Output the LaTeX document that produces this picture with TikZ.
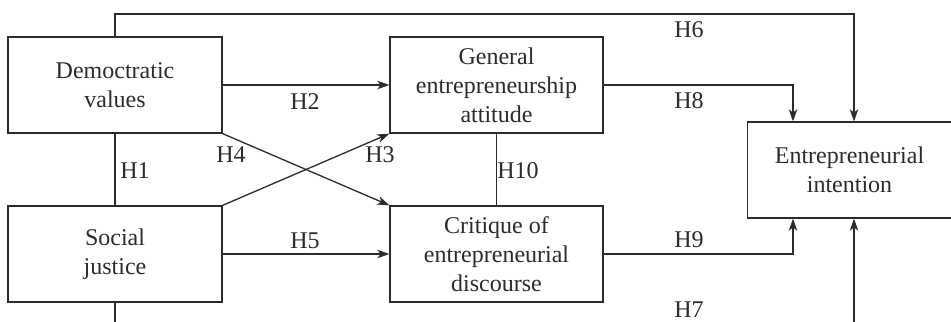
\documentclass[tikz,border=0pt]{standalone}
\usepackage{fontspec}
\setmainfont{Liberation Serif}
\usetikzlibrary{arrows.meta}
\definecolor{ink}{HTML}{2B2B2B}
\tikzset{
  box/.style={draw=ink, line width=0.65pt, inner sep=0pt, minimum height=48pt,
              align=center, text=ink, font=\fontsize{12}{14.5}\selectfont},
  hlab/.style={text=ink, inner sep=0pt, font=\fontsize{12}{14.5}\selectfont},
  conn/.style={draw=ink, line width=0.65pt},
  arr/.style={conn, -{Stealth[length=6pt, width=4.2pt, inset=1.6pt]}}
}
\begin{document}
\begin{tikzpicture}[x=0.5pt, y=-0.5pt]
\useasboundingbox (0,0) rectangle (951,321);
\clip (0,0) rectangle (951,321);
\node[box, minimum width=107pt] (dv)  at (115,85)    {Democtratic\\values};
\node[box, minimum width=107pt] (sj)  at (115,254)   {Social\\justice};
\node[box, minimum width=106.5pt] (gea) at (496.5,85)  {General\\entrepreneurship\\attitude};
\node[box, minimum width=106.5pt] (ced) at (496.5,254) {Critique of\\entrepreneurial\\discourse};
\node[box, minimum width=102pt] (ei)  at (849.5,170) {Entrepreneurial\\intention};
\coordinate (c6) at (854,14);
\coordinate (c8) at (793,0);
\coordinate (b7) at (854,330);
\coordinate (b1) at (115,330);
% connectors
\draw[conn] (dv.south) -- (sj.north);
\draw[arr] (dv.east) -- (gea.west);
\draw[arr] (dv.south east) -- (ced.north west);
\draw[arr] (sj.north east) -- (gea.south west);
\draw[arr] (sj.east) -- (ced.west);
\draw[conn] (gea.south) -- (ced.north);
\draw[arr] (dv.north) |- (c6) -- (c6 |- ei.north);
\draw[arr] (gea.east) -| (c8 |- ei.north);
\draw[arr] (ced.east) -| (c8 |- ei.south);
\draw[arr] (b7) -- (b7 |- ei.south);
\draw[conn] (sj.south) -- (b1);
% labels
\node[hlab] (h1)  at (135,171) {H1};
\node[hlab] (h2)  at (305,102) {H2};
\node[hlab] (h3)  at (380,155) {H3};
\node[hlab] (h4)  at (231,155) {H4};
\node[hlab] (h5)  at (305,241) {H5};
\node[hlab] (h6)  at (689,30)  {H6};
\node[hlab] (h7)  at (689,310) {H7};
\node[hlab] (h8)  at (689,101) {H8};
\node[hlab] (h9)  at (689,240) {H9};
\node[hlab] (h10) at (518,171) {H10};
\end{tikzpicture}
\end{document}
